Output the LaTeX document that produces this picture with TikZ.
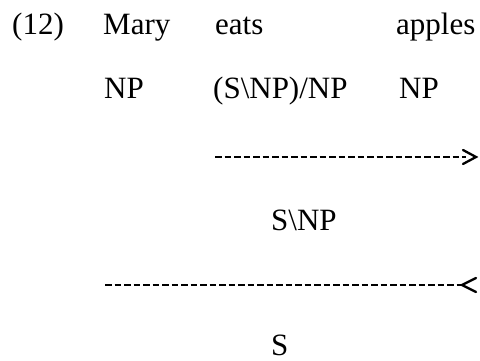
\documentclass[tikz,border=0pt]{standalone}
\usepackage{fontspec}
\setmainfont{Liberation Serif}
\begin{document}
\begin{tikzpicture}[x=1pt,y=-1pt,
  word/.style={anchor=base west,inner sep=0pt,font=\fontsize{31}{37}\selectfont},
  derivline/.style={line width=2.3pt,dash pattern=on 6.5pt off 3pt},
  chevron/.style={line width=2.3pt,line cap=round,line join=miter}]
\useasboundingbox (0,0) rectangle (480,361);
\node[word] (num) at (12,35) {(12)};
\node[word] (mary) at (103,35) {Mary};
\node[word] (eats) at (215,35) {eats};
\node[word] (apples) at (396,35) {apples};
\node[word] (np1) at (104,99) {NP};
\node[word] (tv) at (213,99) {(S\textbackslash NP)/NP};
\node[word] (np2) at (399,99) {NP};
\node[word] (vp) at (271,230) {S\textbackslash NP};
\node[word] (s) at (271,355) {S};
\coordinate (l1a) at (215,157);
\coordinate (l1b) at (466,157);
\coordinate (l2a) at (105,285);
\coordinate (l2b) at (461,285);
\draw[derivline] (l1a) -- (l1b);
\draw[chevron] ([xshift=-3pt,yshift=-7pt]l1b) -- ([xshift=10pt]l1b) -- ([xshift=-3pt,yshift=7pt]l1b);
\draw[derivline] (l2a) -- (l2b);
\draw[chevron] ([xshift=15pt,yshift=-7pt]l2b) -- ([xshift=1pt]l2b) -- ([xshift=15pt,yshift=7pt]l2b);
\end{tikzpicture}
\end{document}
